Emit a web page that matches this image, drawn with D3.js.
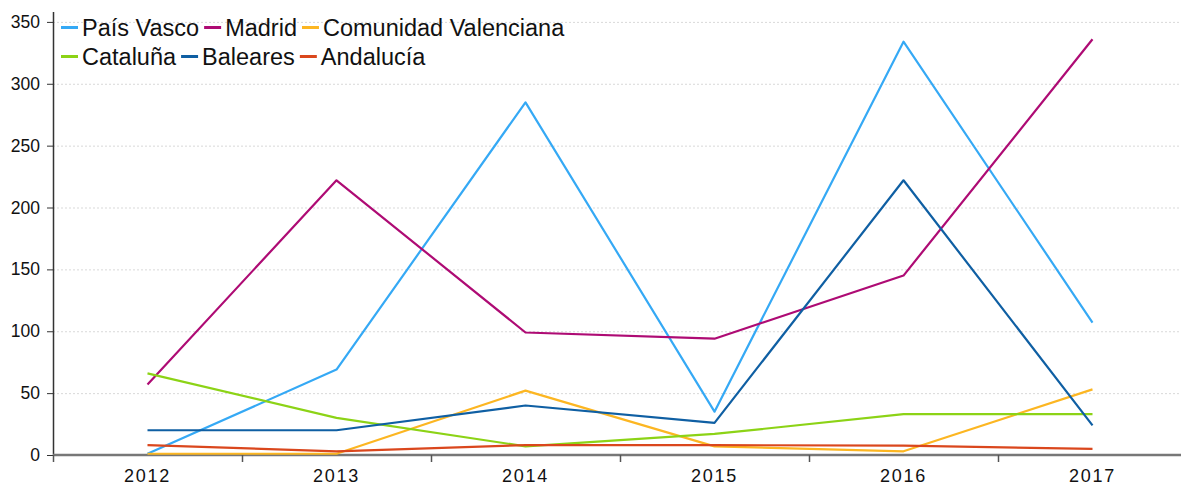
<!DOCTYPE html>
<html>
<head>
<meta charset="utf-8">
<script src="https://cdn.jsdelivr.net/npm/d3@7"></script>
<style>
  body { margin: 0; background: #fff; }
  svg { display: block; font-family: "Liberation Sans", Arial, sans-serif; }
</style>
</head>
<body>
<svg id="chart"></svg>
<script>
/***** Données *****/
var years = ["2012", "2013", "2014", "2015", "2016", "2017"];
var regionNames = ["País Vasco", "Madrid", "Comunidad Valenciana", "Cataluña", "Baleares", "Andalucía"];
var paisVasco = [1, 69, 285, 35, 334, 107];
var madrid = [57, 222, 99, 94, 145, 336];
var valenciana = [1, 1, 52, 7, 3, 53];
var cataluna = [66, 30, 7, 17, 33, 33];
var baleares = [20, 20, 40, 26, 222, 24];
var andalucia = [8, 3, 8, 8, 7.5, 5];
var yTicks = [0, 50, 100, 150, 200, 250, 300, 350];
var colors = ["#35a9f5", "#ae0b74", "#fcb622", "#8cd316", "#0f5fa3", "#da471d"];

(function (d3) {
  "use strict";

  var series = [paisVasco, madrid, valenciana, cataluna, baleares, andalucia].map(function (values, i) {
    return { name: regionNames[i], color: colors[i], values: values };
  });

  /***** Configuration *****/
  var width = 1181;
  var height = 485;
  var left = 53, right = 1187, top = 12, bottom = 455;

  var svg = d3.select("#chart")
    .attr("width", width)
    .attr("height", height);

  /***** Échelles *****/
  var x = d3.scaleBand().domain(years).range([left, right]);
  var y = d3.scaleLinear().domain([0, 358]).range([bottom, top]);

  /***** Grille *****/
  svg.append("g")
    .selectAll("line")
    .data(yTicks.slice(1))
    .enter()
    .append("line")
    .attr("x1", left)
    .attr("x2", width)
    .attr("y1", function (d) { return y(d) + 0.5; })
    .attr("y2", function (d) { return y(d) + 0.5; })
    .attr("stroke", "#d9d9d9")
    .attr("stroke-width", 1)
    .attr("stroke-dasharray", "2,2");

  /***** Axes *****/
  var yAxis = svg.append("g")
    .attr("transform", "translate(" + left + ",0)")
    .call(d3.axisLeft(y).tickValues(yTicks).tickSize(6).tickPadding(7));
  yAxis.select(".domain").attr("d", "M0.5," + top + "V" + bottom).attr("stroke", "#333").attr("stroke-width", 1.5);
  yAxis.selectAll(".tick line").attr("stroke", "#333");
  yAxis.selectAll("text").attr("font-size", 17.5).attr("fill", "#111");

  var xAxis = svg.append("g")
    .attr("transform", "translate(0," + bottom + ")")
    .call(d3.axisBottom(x).tickSize(0).tickPadding(14));
  xAxis.select(".domain").attr("d", "M" + left + ",0H" + width).attr("stroke", "#777").attr("stroke-width", 2.5);
  xAxis.selectAll("text")
    .attr("font-size", 18)
    .attr("letter-spacing", "1.8px")
    .attr("fill", "#111");

  // Graduations entre les catégories
  xAxis.selectAll(".sep")
    .data(years)
    .enter()
    .append("line")
    .attr("class", "sep")
    .attr("x1", function (d) { return Math.round(x(d)) + 0.5; })
    .attr("x2", function (d) { return Math.round(x(d)) + 0.5; })
    .attr("y1", 0)
    .attr("y2", 7)
    .attr("stroke", "#555")
    .attr("stroke-width", 1.5);

  /***** Lignes *****/
  var line = d3.line()
    .x(function (d, i) { return x(years[i]) + x.bandwidth() / 2; })
    .y(function (d) { return y(d); });

  svg.append("g")
    .selectAll("path")
    .data(series)
    .enter()
    .append("path")
    .attr("d", function (d) { return line(d.values); })
    .attr("fill", "none")
    .attr("stroke", function (d) { return d.color; })
    .attr("stroke-width", 2.2)
    .attr("stroke-linejoin", "round");

  /***** Légende *****/
  var legend = svg.append("g").attr("font-size", 23.5);
  var rows = [[0, 1, 2], [3, 4, 5]];
  rows.forEach(function (row, r) {
    var cx = 61;
    var baseline = 36 + r * 29;
    row.forEach(function (idx) {
      var s = series[idx];
      legend.append("line")
        .attr("x1", cx)
        .attr("x2", cx + 17)
        .attr("y1", baseline - 8.5)
        .attr("y2", baseline - 8.5)
        .attr("stroke", s.color)
        .attr("stroke-width", 3);
      var t = legend.append("text")
        .attr("x", cx + 21)
        .attr("y", baseline)
        .attr("fill", "#111")
        .text(s.name);
      cx += 21 + t.node().getComputedTextLength() + 5;
    });
  });

})(d3);
</script>
</body>
</html>
